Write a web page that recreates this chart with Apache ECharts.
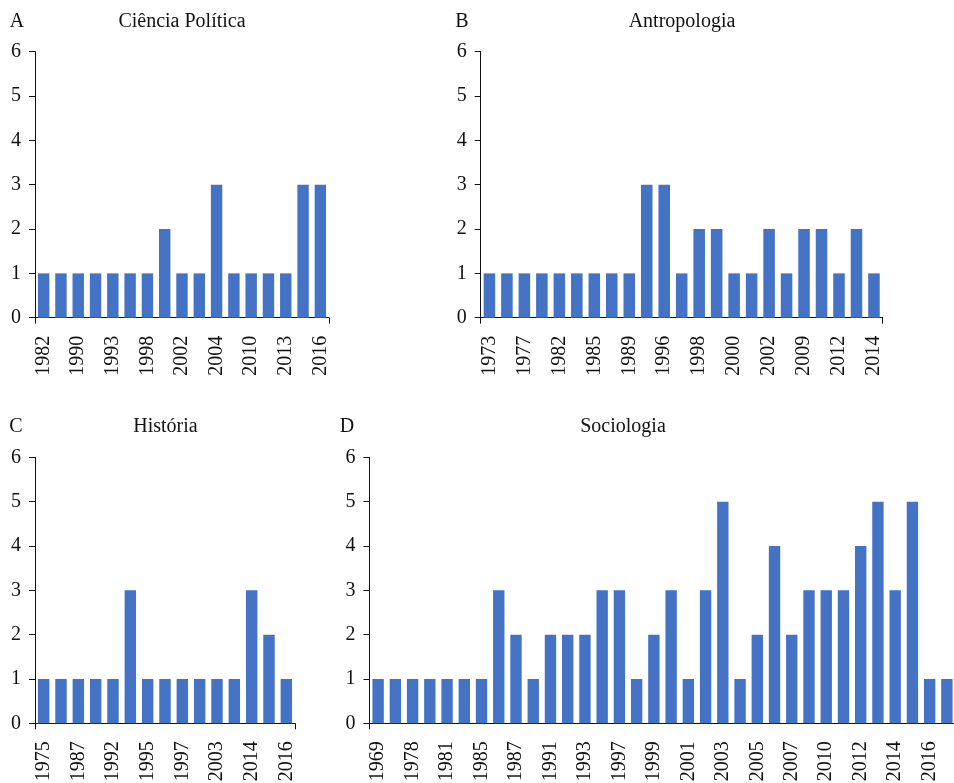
<!DOCTYPE html>
<html>
<head>
<meta charset="utf-8">
<script src="https://cdn.jsdelivr.net/npm/echarts@6/dist/echarts.min.js"></script>
<style>
  html, body { margin: 0; padding: 0; background: #fff; }
  #chart { width: 954px; height: 783px; }
</style>
</head>
<body>
<div id="chart"></div>
<script>
// Publications per year, by discipline
const yearsCP = ['1982','1988','1990','1991','1993','1997','1998','2000','2002','2003','2004','2008','2010','2012','2013','2015','2016'];
const valuesCP = [1,1,1,1,1,1,1,2,1,1,3,1,1,1,1,3,3];

const yearsAnt = ['1973','1975','1977','1980','1982','1984','1985','1988','1989','1995','1996','1997','1998','1999','2000','2001','2002','2008','2009','2011','2012','2013','2014'];
const valuesAnt = [1,1,1,1,1,1,1,1,1,3,3,1,2,2,1,1,2,1,2,2,1,2,1];

const yearsHist = ['1975','1983','1987','1990','1992','1994','1995','1996','1997','2000','2003','2010','2014','2015','2016'];
const valuesHist = [1,1,1,1,1,3,1,1,1,1,1,1,3,2,1];

const yearsSoc = ['1969','1975','1978','1980','1981','1984','1985','1986','1987','1990','1991','1992','1993','1996','1997','1998','1999','2000','2001','2002','2003','2004','2005','2006','2007','2009','2010','2011','2012','2013','2014','2015','2016','2017'];
const valuesSoc = [1,1,1,1,1,1,1,3,2,1,2,2,2,3,3,1,2,3,1,3,5,1,2,4,2,3,3,3,4,5,3,5,1,1];

const yTicks = [0, 1, 2, 3, 4, 5, 6];

const FONT = '"Liberation Serif", "Times New Roman", serif';
const INK = '#111';
const BAR = '#4472C4';

const panels = [
  { letter: 'A', name: 'Ciência Política', years: yearsCP,   values: valuesCP,   grid: { left: 35,    top: 51.7,  width: 294, height: 266 }, letterPos: [17, 22],  namePos: [182, 22] },
  { letter: 'B', name: 'Antropologia',     years: yearsAnt,  values: valuesAnt,  grid: { left: 480.7, top: 51.7,  width: 402, height: 266 }, letterPos: [462, 22], namePos: [682, 22] },
  { letter: 'C', name: 'História',         years: yearsHist, values: valuesHist, grid: { left: 35,    top: 457.3, width: 260, height: 266 }, letterPos: [16, 427], namePos: [165.5, 427] },
  { letter: 'D', name: 'Sociologia',       years: yearsSoc,  values: valuesSoc,  grid: { left: 369.5, top: 457.3, width: 586, height: 266 }, letterPos: [347, 427], namePos: [623, 427] }
];

const grid = [], xAxis = [], yAxis = [], series = [], graphic = [];

panels.forEach((p, i) => {
  grid.push(Object.assign({ containLabel: false, outerBoundsMode: 'none' }, p.grid));
  xAxis.push({
    type: 'category',
    gridIndex: i,
    data: p.years,
    boundaryGap: true,
    axisLine: { show: true, lineStyle: { color: INK, width: 1 } },
    // ticks only at the two ends of the axis
    axisTick: { show: true, interval: 1000, length: 6, lineStyle: { color: INK, width: 1 } },
    axisLabel: {
      interval: 1,
      rotate: 90,
      margin: 18,
      fontFamily: FONT,
      fontSize: 20,
      color: INK
    },
    splitLine: { show: false }
  });
  yAxis.push({
    type: 'value',
    gridIndex: i,
    min: yTicks[0],
    max: yTicks[yTicks.length - 1],
    interval: 1,
    axisLine: { show: true, lineStyle: { color: INK, width: 1 } },
    axisTick: { show: true, length: 6, lineStyle: { color: INK, width: 1 } },
    axisLabel: { margin: 14, fontFamily: FONT, fontSize: 20, color: INK },
    splitLine: { show: false }
  });
  series.push({
    type: 'bar',
    xAxisIndex: i,
    yAxisIndex: i,
    data: p.values,
    barCategoryGap: '34%',
    itemStyle: { color: BAR },
    silent: true
  });
  graphic.push({
    type: 'text', x: p.letterPos[0], y: p.letterPos[1],
    style: { text: p.letter, font: '20px ' + FONT, fill: INK, textAlign: 'center', textVerticalAlign: 'middle' }
  });
  graphic.push({
    type: 'text', x: p.namePos[0], y: p.namePos[1],
    style: { text: p.name, font: '20px ' + FONT, fill: INK, textAlign: 'center', textVerticalAlign: 'middle' }
  });
});

const chart = echarts.init(document.getElementById('chart'), null, { renderer: 'canvas' });
chart.setOption({
  animation: false,
  backgroundColor: '#fff',
  grid, xAxis, yAxis, series, graphic
});
</script>
</body>
</html>
